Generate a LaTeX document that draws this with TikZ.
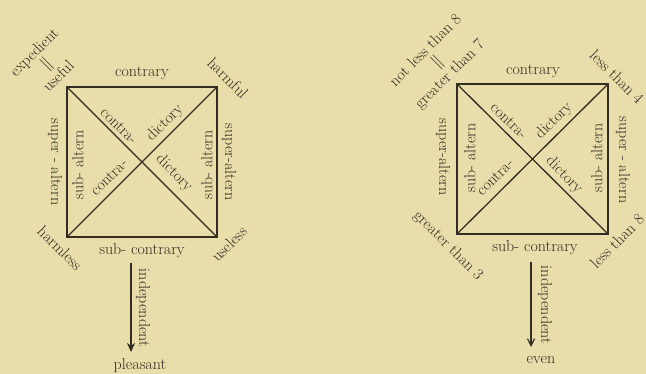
\documentclass[tikz,border=0pt]{standalone}
\usetikzlibrary{arrows.meta}
\definecolor{bg}{RGB}{233,221,171}
\definecolor{ink}{RGB}{50,45,32}
\begin{document}
\begin{tikzpicture}[x=1pt,y=-1pt,
  every node/.style={text=ink, font=\fontsize{16}{19}\selectfont, inner sep=0pt},
  edge/.style={draw=ink, line width=1.3pt},
  stack/.style={align=center, font=\fontsize{16}{17}\selectfont}]
\fill[bg] (0,0) rectangle (646,374);
\useasboundingbox (0,0) rectangle (646,374);
% ---------- left square ----------
\coordinate (ATL) at (67,87);
\coordinate (ATR) at (217,87);
\coordinate (ABR) at (217,237);
\coordinate (ABL) at (67,237);
\draw[edge] (ATL) -- (ATR) -- (ABR) -- (ABL) -- cycle;
\draw[edge] (ATL) -- (ABR);
\draw[edge] (ATR) -- (ABL);
\node (acon) at (142,73) {contrary};
\node (asub) at (142,251) {sub- contrary};
\node[rotate=-90] (asupl) at (55,162) {super - altern};
\node[rotate=90] (asubl) at (78,165) {sub- altern};
\node[rotate=90] (asubr) at (207,165) {sub- altern};
\node[rotate=-90] (asupr) at (229,162) {super-altern};
\node[rotate=-45] (ad1) at (119,126) {contra-};
\node[rotate=45] (ad2) at (165,123) {dictory};
\node[rotate=45] (ad3) at (109,177) {contra-};
\node[rotate=-45] (ad4) at (174,173) {dictory};
\node[stack, rotate=45] (atl) at (46,64) {expedient\\$\parallel$\\useful};
\node[rotate=-45] (atr) at (228,78) {harmful};
\node[rotate=-45] (abl) at (60,248) {harmless};
\node[rotate=45] (abr) at (229,244) {useless};
\coordinate (astart) at (131,263);
\node (aend) at (140,366) {pleasant};
\draw[draw=ink, line width=2pt, -{Stealth[length=9pt,width=8pt]}] (astart) -- (131,352) coordinate (atip);
\node[rotate=-90] (aind) at (143,308) {independent};
% ---------- right square ----------
\coordinate (BTL) at (457,84);
\coordinate (BTR) at (608,84);
\coordinate (BBR) at (608,234);
\coordinate (BBL) at (457,234);
\draw[edge] (BTL) -- (BTR) -- (BBR) -- (BBL) -- cycle;
\draw[edge] (BTL) -- (BBR);
\draw[edge] (BTR) -- (BBL);
\node (bcon) at (533,71) {contrary};
\node (bsub) at (535,248) {sub- contrary};
\node[rotate=-90] (bsupl) at (443,157) {super-altern};
\node[rotate=90] (bsubl) at (470,158) {sub- altern};
\node[rotate=90] (bsubr) at (597,158) {sub- altern};
\node[rotate=-90] (bsupr) at (623,160) {super - altern};
\node[rotate=-45] (bd1) at (509,121) {contra-};
\node[rotate=45] (bd2) at (554,121) {dictory};
\node[rotate=45] (bd3) at (495,177) {contra-};
\node[rotate=-45] (bd4) at (564,175) {dictory};
\node[stack, rotate=45] (btl) at (438,63) {not less than 8\\$\parallel$\\greater than 7};
\node[rotate=-45] (btr) at (617,77) {less than 4};
\node[rotate=-45] (bbl) at (448,246) {greater than 3};
\node[rotate=45] (bbr) at (617,241) {less than 8};
\coordinate (bstart) at (531,262);
\node (bend) at (541,360) {even};
\draw[draw=ink, line width=1.2pt, -{Straight Barb[length=7pt,width=7pt]}] (bstart) -- (531,347) coordinate (btip);
\node[rotate=-90] (bind) at (545,305) {independent};
\end{tikzpicture}
\end{document}
